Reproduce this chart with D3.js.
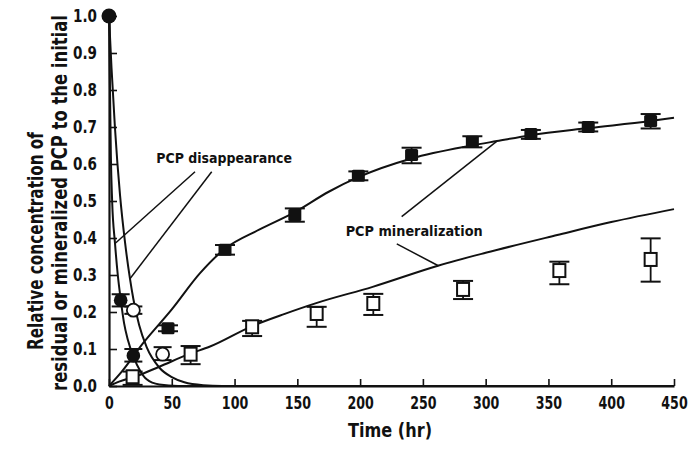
<!DOCTYPE html>
<html><head><meta charset="utf-8">
<script src="https://cdn.jsdelivr.net/npm/d3@7/dist/d3.min.js"></script>
<style>
html,body{margin:0;padding:0;background:#fff;}
svg text{font-family:"DejaVu Sans",Arial,sans-serif;font-weight:bold;fill:#111;}
</style></head>
<body>
<svg id="chart" width="689" height="449"></svg>
<script>
// ---- data ----
const timeTicks = [0,50,100,150,200,250,300,350,400,450];
const yTicks = [0,0.1,0.2,0.3,0.4,0.5,0.6,0.7,0.8,0.9,1.0];

// PCP disappearance, filled circles: time, value, error low, error high
const filledCircleT  = [0, 9.3, 19.4];
const filledCircleV  = [1.0, 0.232, 0.082];
const filledCircleLo = [1.0, 0.215, 0.066];
const filledCircleHi = [1.0, 0.248, 0.100];

// PCP disappearance, open circles
const openCircleT  = [19.4, 42.7];
const openCircleV  = [0.205, 0.086];
const openCircleLo = [0.195, 0.070];
const openCircleHi = [0.215, 0.105];

// PCP mineralization, filled squares
const filledSquareT  = [47, 92.4, 148, 198.6, 241, 289.4, 336, 381.7, 431.4];
const filledSquareV  = [0.156, 0.368, 0.462, 0.568, 0.624, 0.660, 0.681, 0.700, 0.716];
const filledSquareLo = [0.148, 0.355, 0.444, 0.556, 0.602, 0.645, 0.668, 0.688, 0.696];
const filledSquareHi = [0.164, 0.381, 0.480, 0.580, 0.644, 0.675, 0.692, 0.712, 0.735];

// PCP mineralization, open squares
const openSquareT  = [18.8, 65, 114, 165.4, 210.5, 282, 358.7, 431.4];
const openSquareV  = [0.025, 0.086, 0.160, 0.196, 0.223, 0.261, 0.312, 0.342];
const openSquareLo = [0.003, 0.059, 0.135, 0.160, 0.192, 0.235, 0.275, 0.282];
const openSquareHi = [0.039, 0.108, 0.176, 0.214, 0.249, 0.284, 0.336, 0.399];

// fitted curves (time, value)
const disappearFastCurve = [[0,1],[0.8,0.8],[1.5,0.62],[2.5,0.5],[4.8,0.385],[7,0.3],[9.3,0.235],[12,0.17],[15,0.125],[19.4,0.08],[25,0.04],[30,0.018],[40,0.004],[55,0],[450,0]];
const disappearSlowCurve = [[0,1],[2,0.86],[4.7,0.7],[8.8,0.515],[12.7,0.39],[16.7,0.29],[19.4,0.235],[24,0.165],[30,0.105],[40,0.05],[50,0.024],[60,0.01],[75,0.002],[90,0],[450,0]];
const mineralUpperCurve = [[0,0],[10,0.038],[27,0.115],[50,0.207],[72.5,0.305],[92,0.37],[120,0.423],[148,0.47],[175,0.525],[199,0.565],[241,0.615],[289,0.65],[309,0.662],[336,0.678],[382,0.697],[431,0.716],[450,0.725]];
const mineralLowerCurve = [[0,0],[8,0.012],[22,0.027],[40,0.052],[65,0.088],[80,0.106],[114,0.162],[140,0.195],[165,0.224],[210,0.268],[262,0.325],[300,0.36],[357,0.408],[400,0.443],[450,0.478]];

// annotations: label, label anchor (time,value), leader lines [from, to] in data units
const annoLabels = ["PCP disappearance", "PCP mineralization"];
const annoAnchor = [[37.6,0.603],[188.5,0.405]];
const annoLeaders = [
  [[[68.5,0.579],[4.8,0.385]], [[81.8,0.579],[16.7,0.29]]],
  [[[233.1,0.458],[309,0.662]], [[229.2,0.384],[262.3,0.325]]]
];

// ---- drawing ----
const svg = d3.select("#chart");
const x = d3.scaleLinear().domain([0,450]).range([109,674]);
const y = d3.scaleLinear().domain([0,1]).range([386,16]);

// condensed look: squeeze a text horizontally to a target width (keeps its anchor point)
function fitWidth(node, width){
  const nat = node.getComputedTextLength();
  if (!nat) return;
  const sx = width / nat;
  const x0 = +(node.getAttribute("x") || 0);
  node.setAttribute("x", x0 / sx);
  const tr = node.getAttribute("transform") || "";
  node.setAttribute("transform", (tr + " scale(" + sx + ",1)").trim());
}
function condenseTicks(sel, digitW, dotW){
  sel.each(function(){
    let w = 0;
    for (const ch of this.textContent) w += (ch === ".") ? dotW : digitW;
    fitWidth(this, w);
  });
}

// axes
const xAxis = d3.axisBottom(x).tickValues(timeTicks).tickSize(-7).tickSizeOuter(0).tickPadding(10).tickFormat(d3.format("d"));
const yAxis = d3.axisLeft(y).tickValues(yTicks).tickSize(-8).tickSizeOuter(0).tickPadding(12).tickFormat(d3.format(".1f"));
const gx = svg.append("g").attr("transform","translate(0,386)").call(xAxis);
const gy = svg.append("g").attr("transform","translate(109,0)").call(yAxis);
[gx,gy].forEach(g=>{
  g.select(".domain").attr("stroke","#111").attr("stroke-width",2.2);
  g.selectAll(".tick line").attr("stroke","#111").attr("stroke-width",1.6);
  g.selectAll(".tick text").style("font-size","18px").attr("fill","#111");
});
condenseTicks(gx.selectAll(".tick text"), 8.8, 5);
condenseTicks(gy.selectAll(".tick text"), 9.5, 5);

// axis titles
const tX = svg.append("text").attr("transform","translate(390,437)").attr("text-anchor","middle")
  .style("font-size","20px").text("Time (hr)");
fitWidth(tX.node(), 84);
const tY1 = svg.append("text").attr("transform","translate(42.5,241) rotate(-90)").attr("text-anchor","middle")
  .style("font-size","21px").text("Relative concentration of");
fitWidth(tY1.node(), 218);
const tY2 = svg.append("text").attr("transform","translate(66.5,203) rotate(-90)").attr("text-anchor","middle")
  .style("font-size","21px").text("residual or mineralized PCP to the initial");
fitWidth(tY2.node(), 376);

// curves
const line = d3.line().x(d=>x(d[0])).y(d=>y(d[1])).curve(d3.curveMonotoneX);
[disappearFastCurve, disappearSlowCurve, mineralUpperCurve, mineralLowerCurve].forEach(c=>{
  svg.append("path").attr("d",line(c)).attr("fill","none").attr("stroke","#111").attr("stroke-width",2);
});

// annotations
annoLabels.forEach((lab,i)=>{
  const t = svg.append("text")
    .attr("transform","translate(" + x(annoAnchor[i][0]) + "," + y(annoAnchor[i][1]) + ")")
    .style("font-size","14px").text(lab);
  fitWidth(t.node(), i===0?136:137);
  annoLeaders[i].forEach(seg=>{
    svg.append("line").attr("x1",x(seg[0][0])).attr("y1",y(seg[0][1]))
      .attr("x2",x(seg[1][0])).attr("y2",y(seg[1][1]))
      .attr("stroke","#111").attr("stroke-width",1.5);
  });
});

// error bars
function errBars(T,Lo,Hi,capW){
  T.forEach((t,i)=>{
    if (Hi[i]===Lo[i]) return;
    const g = svg.append("g");
    g.append("line").attr("x1",x(t)).attr("x2",x(t)).attr("y1",y(Lo[i])).attr("y2",y(Hi[i])).attr("stroke","#111").attr("stroke-width",1.8);
    [Lo[i],Hi[i]].forEach(v=>g.append("line").attr("x1",x(t)-capW/2).attr("x2",x(t)+capW/2)
      .attr("y1",y(v)).attr("y2",y(v)).attr("stroke","#111").attr("stroke-width",2));
  });
}
errBars(openSquareT,openSquareLo,openSquareHi,20);
errBars(filledSquareT,filledSquareLo,filledSquareHi,20);
errBars(openCircleT,openCircleLo,openCircleHi,18);
errBars(filledCircleT,filledCircleLo,filledCircleHi,18);

// markers
openSquareT.forEach((t,i)=>{
  svg.append("rect").attr("x",x(t)-6).attr("y",y(openSquareV[i])-6.5).attr("width",12).attr("height",13)
    .attr("fill","#fff").attr("stroke","#111").attr("stroke-width",2);
});
filledSquareT.forEach((t,i)=>{
  svg.append("rect").attr("x",x(t)-6.5).attr("y",y(filledSquareV[i])-6).attr("width",13).attr("height",12)
    .attr("rx",1.5).attr("fill","#111");
});
openCircleT.forEach((t,i)=>{
  svg.append("circle").attr("cx",x(t)).attr("cy",y(openCircleV[i])).attr("r",6.5)
    .attr("fill","#fff").attr("stroke","#111").attr("stroke-width",1.8);
});
filledCircleT.forEach((t,i)=>{
  svg.append("circle").attr("cx",x(t)).attr("cy",y(filledCircleV[i])).attr("r",i===0?7.5:6.8)
    .attr("fill","#111");
});
</script>
</body></html>
